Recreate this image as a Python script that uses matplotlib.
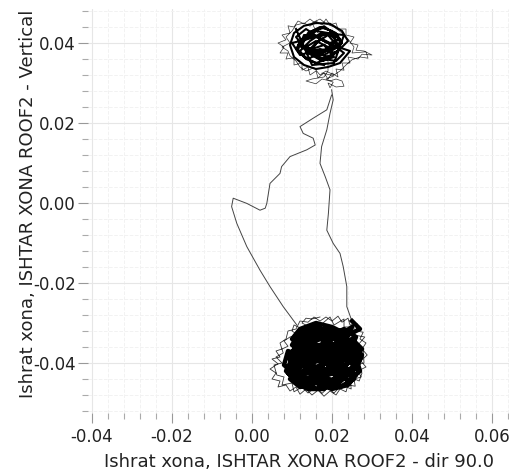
import numpy as np
import matplotlib
matplotlib.use('Agg')
import matplotlib.pyplot as plt
from matplotlib.ticker import MultipleLocator

# displacement values, in thousandths (x, y)
top_core = [(18, 34.5), (16, 35), (13, 36.5), (11, 38.5), (12.5, 41), (15, 43), (18, 43.8), (21, 42.5), (22.5, 40), (20, 38.5),
            (17, 37.5), (14, 36), (11.5, 38), (12, 40.5), (15, 42), (18, 40.5), (21, 39), (23, 37.5), (21, 35.5), (18, 36),
            (15, 37.5), (12.5, 39.5), (14, 42.5), (17, 44), (20, 43), (22, 41), (19.5, 40), (16.5, 41.5), (13.5, 43.5), (11, 41.5),
            (13, 39), (16, 37.5), (19, 36.5), (22, 38.5), (20.5, 41.5), (17.5, 42.5), (14.5, 40.5), (12, 38), (13.5, 36), (16, 35),
            (19, 36), (21.5, 38), (22, 41), (19, 42.5), (16, 43), (13, 41), (11.5, 39.5), (14, 38), (17, 37), (20, 39),
            (22.5, 40), (21, 42), (18, 44.2), (15, 42.5), (12.5, 40), (14, 37.5), (17.5, 35.5), (20.5, 36.5), (19, 39), (16, 40.5),
            (13.5, 39), (15.5, 37.5), (18.5, 38.5), (21, 40.5), (19.5, 42.5), (16.5, 41.5), (13, 42), (12, 39.5), (15, 38.5), (18, 39.5),
            (20, 37), (17, 36), (14, 38), (16, 40), (19, 42), (21.5, 39), (18, 37), (15, 38.5), (17, 41), (20, 39.5),
            (24.5, 38), (22, 35), (19, 34), (16, 33.5), (13, 34.5), (10.5, 36.5), (9.5, 39.5), (10.5, 42.5), (13, 44.3), (16, 45),
            (19.5, 44.8), (22.5, 43), (24, 40.5), (21, 37.5), (17, 38.5), (12, 37), (10, 40), (14, 41), (18, 42.5), (23, 42),
            (20.5, 35), (15, 34.5), (11, 43.5)]

top_fringe = [(16, 44.8), (14.5, 46), (13, 44.8), (11.5, 45.5), (10.5, 44), (9, 44.3), (9.5, 42.5), (7.5, 42), (8.5, 40.8), (6.5, 40),
              (8, 39), (7, 37.5), (9, 37.5), (8.5, 36), (10.5, 36.3), (10.5, 34.5), (12.5, 35), (12.5, 33.2), (14, 34), (14.5, 32),
              (16, 33), (16.5, 31.3), (18, 32.5), (19, 31), (20, 32.5), (21.5, 31.5), (21, 33.5), (23, 33.2), (22.5, 35), (24.5, 35),
              (24, 36.5), (26.5, 36), (27.5, 37.2), (30, 37), (28, 38), (26, 38.2), (26.5, 39.5), (24.5, 40), (25.5, 41.5), (23.5, 42),
              (23.5, 43.5), (21.5, 43.5), (21, 45), (19.5, 44.5), (18.5, 46), (17.5, 44.5), (16, 45.5), (14.5, 44.2), (13, 45), (11, 44.5),
              (10, 43), (8.5, 41.5), (9.5, 40), (7.5, 39), (9, 38), (9.5, 36.8), (11, 35.5), (12, 34), (13.5, 33), (15.5, 33.8),
              (17, 32), (18.5, 33), (20.5, 32), (22, 33), (23.5, 34.5), (25, 35.8), (27, 36.5), (29, 36.2), (28.5, 37.8), (25, 37.5),
              (25.5, 39), (24, 41), (22.5, 42.5), (20.5, 44), (18.5, 44.8), (17, 46), (15, 45), (16, 43), (18, 41), (19, 37),
              (19, 33), (18, 31.5), (15, 31), (13.5, 30.5), (16, 29.8), (17.5, 31), (19.5, 30.5), (21, 31), (22.5, 30.5), (23, 29.2),
              (21, 29), (20, 29.5), (19, 30), (19.5, 28.8), (20.3, 30.2), (18.5, 31), (20.5, 31.8), (17.5, 32.5)]

bot_core = [(25, -29.5), (27, -31.5), (24, -33), (20, -31), (16, -30), (12, -31.5), (10, -34), (13, -36), (17, -34), (21, -35.5),
            (25, -34), (27.5, -36.5), (25, -39), (21, -38), (17, -39.5), (13, -38.5), (9, -37), (8, -40.5), (11, -43), (15, -41.5),
            (19, -43), (23, -41.5), (26, -43), (24, -45.5), (20, -46.5), (16, -45), (12, -46), (9.5, -44), (12, -41), (16, -38),
            (20, -40), (24, -37.5), (22, -34), (18, -32.5), (14, -33.5), (11, -36.5), (14, -39.5), (18, -37), (22, -38.5), (26, -40.5),
            (23, -43.5), (19, -45), (15, -43.5), (11, -44.5), (8.5, -42), (10, -39), (13, -41), (17, -42.5), (21, -41), (25, -42),
            (27, -39), (24, -36), (20, -36.5), (16, -35.5), (12, -34.5), (15, -32), (19, -33.5), (23, -31.5), (26, -33.5), (24, -38),
            (20, -42), (16, -44), (13, -45.5), (10, -42), (12, -38), (15, -36), (18, -39), (21, -43.5), (18, -46.5), (14, -46.5),
            (11, -45), (13, -43), (17, -40.5), (21, -37), (24, -35), (26.5, -38), (25, -41), (22, -44.5), (19, -44), (16, -41.5),
            (13, -37.5), (10, -35.5), (12, -32.5), (16, -31), (20, -32.5), (22, -36), (19, -38.5), (15, -40), (11, -41), (9, -38.5),
            (11, -36), (14, -35), (17, -37.5), (20, -39.5), (23, -40.5), (25.5, -44), (22, -46), (18, -44.5), (15, -42), (12, -39.5),
            (14, -37), (18, -35), (22, -33), (25, -31), (23, -35), (21, -39), (17, -43.5), (13, -44), (10, -40.5), (13, -36.5),
            (17, -33), (21, -34), (24, -40), (20, -45), (16, -46.5), (12, -43.5), (14, -40.5), (18, -41.5), (22, -42.5), (26, -41.5),
            (27.5, -38), (25, -35.5), (21, -32), (17, -31.5), (13, -32.5), (10, -37.5), (12, -42), (16, -43), (20, -37.5), (23, -38),
            (19, -35.5), (15, -37), (11, -39), (9, -42.5), (12, -45), (15, -44.5), (18, -42.5), (22, -40), (24, -43), (21, -45.5),
            (17, -45.5), (14, -41.5), (16, -39), (19, -40.5), (23, -39), (26, -37), (23, -33.5), (19, -31), (15, -33), (12, -35.5),
            (14, -38.5), (18, -36.5), (21, -41.5), (25, -39.5), (22, -37), (18, -38), (14, -36), (11, -33.5), (14, -31), (18, -34),
            (20, -38.5), (16, -42), (12, -40), (10, -43.5), (13, -46), (17, -44), (20, -41), (24, -44.5), (27, -42), (25.5, -37),
            (22, -35.5), (17, -36), (13, -39), (15, -43), (19, -46), (22, -43), (20, -39), (17, -38.5), (14, -34), (19, -32)]

bot_fringe = [(17, -28.5), (15, -29), (13.5, -28.8), (12.5, -30), (14, -30.8), (12, -31.2), (10.5, -30.5), (10, -32), (11.5, -33), (9.5, -33.5),
              (8, -34.5), (9, -35.8), (7.5, -36.5), (6, -37), (7, -38.5), (5, -39), (6.5, -40.2), (4.5, -41.5), (6, -42.5), (5, -44),
              (7, -44.5), (6.5, -46), (8.5, -45.5), (9.5, -47), (11, -46), (12, -47.8), (13.5, -46.5), (15, -48), (16.5, -46.8), (18, -48.3),
              (19.5, -47), (21, -48), (22, -46.5), (23.5, -47.2), (24, -45.5), (25.8, -45.8), (25.5, -44), (27.3, -43.5), (26.5, -42), (28.5, -41),
              (27.2, -39.5), (28.8, -38), (27.5, -36.5), (28.5, -35), (27, -34), (27.8, -32.3), (26, -32), (26.3, -30.2), (24.5, -30.5), (24, -28.8),
              (22.5, -29.8), (21.5, -28.3), (20, -29.5), (18.5, -28.5), (17, -29.5), (15.5, -28.5), (14, -29.8), (12, -29.5), (11, -31.5), (9, -32),
              (8.5, -34), (7, -35), (7.8, -37.5), (6, -38.5), (7.5, -40), (5.5, -40.5), (6.2, -43), (8, -43.5), (7.5, -45.5), (10, -45),
              (10.5, -47.2), (12.5, -46), (14, -47.5), (16, -46), (17.5, -47.6), (19, -46.2), (20.5, -47.5), (22.5, -45.5), (24.8, -46.5), (24.5, -43.5),
              (26.8, -44.5), (27.5, -42.5), (26, -40.5), (28, -40), (27.8, -37), (26.5, -35.5), (28.2, -33.5), (25.5, -33), (25.5, -31), (23, -31),
              (23, -29), (20.5, -30.5), (19.5, -28.5), (17.5, -30.2)]

right_x = [19.9, 20.3, 19.5, 18.7, 17.4, 17.0, 18.3, 19.5, 19.1, 18.7, 20.3, 22.0, 22.8, 23.7, 23.7, 24.9]
right_y = [28.3, 25.8, 22.4, 18.3, 14.1, 9.9, 6.6, 3.3, -2.6, -6.8, -10.1, -12.6, -15.9, -20.9, -25.9, -29.3]

left_x = [19.9, 18.7, 15.3, 12.0, 12.8, 15.3, 15.8, 13.7, 9.5, 7.4, 7.0, 4.5, 4.1, 3.7, 3.3, 2.0, -1.3, -4.7, -5.1, -3.8,
          -1.3, 2.0, 4.5, 7.8, 11.2]
left_y = [27.0, 23.3, 21.2, 19.1, 17.4, 16.2, 14.5, 13.3, 11.6, 9.1, 7.4, 4.9, 2.4, -0.1, -1.3, -1.8, -0.1, 1.2, -0.9, -5.1,
          -10.9, -16.8, -20.9, -25.9, -30.5]

fig = plt.figure(figsize=(5.09, 4.74), dpi=100)
ax = fig.add_axes([0.1729, 0.1287, 0.8271, 0.8523])

s = 0.001


def draw(pts, lw, color='black'):
    p = np.array(pts) * s
    ax.plot(p[:, 0], p[:, 1], color=color, lw=lw)


ax.plot(np.array(left_x) * s, np.array(left_y) * s, color='#444444', lw=0.7)
ax.plot(np.array(right_x) * s, np.array(right_y) * s, color='#444444', lw=0.7)
draw(top_fringe, 0.5, '#333333')
draw(top_core, 1.5)
draw(bot_fringe, 0.6, '#333333')
draw(bot_core, 3.2)

ax.set_xlim(-0.041, 0.06425)
ax.set_ylim(-0.0525, 0.0485)
ax.xaxis.set_major_locator(MultipleLocator(0.02))
ax.xaxis.set_minor_locator(MultipleLocator(0.004))
ax.yaxis.set_major_locator(MultipleLocator(0.02))
ax.yaxis.set_minor_locator(MultipleLocator(0.004))
ax.xaxis.set_major_formatter(plt.FormatStrFormatter('%.2f'))
ax.yaxis.set_major_formatter(plt.FormatStrFormatter('%.2f'))

for sp in ax.spines.values():
    sp.set_visible(False)

ax.grid(which='major', color='#e6e6e6', lw=0.8)
ax.grid(which='minor', color='#f2f2f2', lw=0.7, ls='--')
ax.set_axisbelow(True)

ax.tick_params(which='major', length=7, width=0.8, color='#999999', labelsize=12, labelcolor='#222222')
ax.tick_params(axis='x', which='major', pad=4)
ax.tick_params(axis='y', which='major', pad=2)
ax.tick_params(which='minor', length=4, width=0.8, color='#aaaaaa')

ax.set_xlabel('Ishrat xona, ISHTAR XONA ROOF2 - dir 90.0', fontsize=13, color='#222222', labelpad=5)
ax.set_ylabel('Ishrat xona, ISHTAR XONA ROOF2 - Vertical', fontsize=13, color='#222222')
ax.yaxis.set_label_coords(-0.122, 0.518)

fig.savefig('out.png', dpi=100)
